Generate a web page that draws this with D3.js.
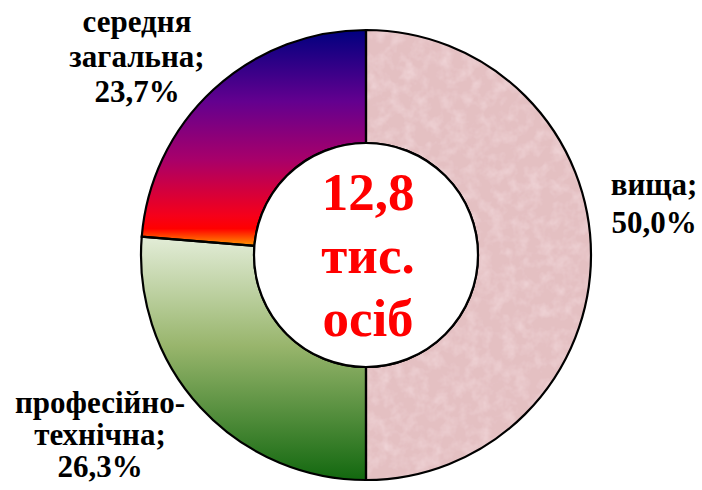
<!DOCTYPE html>
<html><head><meta charset="utf-8"><script src="https://cdn.jsdelivr.net/npm/d3@7"></script>
<style>
  svg text { font-family: "Liberation Serif", "Times New Roman", serif !important; font-weight: bold !important; }
</style>
</head>
<body style="margin:0">
<svg id="s" width="702" height="490"></svg>
<script>
// data
const categories = ['вища', 'професійно-технічна', 'середня загальна']
const shares = [50.0, 26.3, 23.7]
const labelLines = [
  ['вища;', '50,0%'],
  ['професійно-', 'технічна;', '26,3%'],
  ['середня', 'загальна;', '23,7%']
]
const centerLines = ['12,8', 'тис.', 'осіб']

// size
const cx = 366
const cy = 255
const outerR = 225
const innerR = 112

const svg = d3.select('#s')
const defs = svg.append('defs')

// purple -> red -> orange gradient (top to bottom)
const g1 = defs.append('linearGradient')
  .attr('id', 'gradSunset')
  .attr('x1', 0).attr('y1', 0).attr('x2', 0).attr('y2', 1)
;[[0, '#00007f'], [0.33, '#63008f'], [0.6, '#a8006a'], [0.86, '#f5001a'], [0.92, '#ff0000'], [1, '#ff9a00']]
  .forEach(s => g1.append('stop').attr('offset', s[0]).attr('stop-color', s[1]))

// light green -> dark green
const g2 = defs.append('linearGradient')
  .attr('id', 'gradGreen')
  .attr('x1', 0).attr('y1', 0).attr('x2', 0).attr('y2', 1)
;[[0, '#e3edd8'], [0.45, '#98b56c'], [1, '#12680f']]
  .forEach(s => g2.append('stop').attr('offset', s[0]).attr('stop-color', s[1]))

// pink paper texture
const f = defs.append('filter').attr('id', 'paper')
  .attr('x', 0).attr('y', 0).attr('width', 1).attr('height', 1)
f.append('feTurbulence')
  .attr('type', 'fractalNoise').attr('baseFrequency', 0.08)
  .attr('numOctaves', 3).attr('seed', 4).attr('result', 'noise')
f.append('feColorMatrix').attr('in', 'noise').attr('type', 'matrix')
  .attr('values', '0 0 0 0 1  0 0 0 0 0.86  0 0 0 0 0.88  0.7 0 0 0 -0.28')
  .attr('result', 'spots')
f.append('feComposite').attr('in', 'spots').attr('in2', 'SourceGraphic')
  .attr('operator', 'in').attr('result', 'spotsIn')
const fm = f.append('feMerge')
fm.append('feMergeNode').attr('in', 'SourceGraphic')
fm.append('feMergeNode').attr('in', 'spotsIn')

const fills = ['#e4c0c2', 'url(#gradGreen)', 'url(#gradSunset)']

const pie = d3.pie().sort(null).value(d => d)
const arc = d3.arc().innerRadius(innerR).outerRadius(outerR)
const arcs = pie(shares)

const g = svg.append('g').attr('transform', `translate(${cx},${cy})`)

// slice fills
g.selectAll('path.fill')
  .data(arcs)
  .enter()
  .append('path')
  .attr('class', 'fill')
  .attr('d', arc)
  .attr('fill', (d, i) => fills[i])
  .attr('filter', (d, i) => i === 0 ? 'url(#paper)' : null)

// slice outlines
g.selectAll('path.edge')
  .data(arcs)
  .enter()
  .append('path')
  .attr('class', 'edge')
  .attr('d', arc)
  .attr('fill', 'none')
  .attr('stroke', '#000')
  .attr('stroke-width', 2.2)

// hole
g.append('circle')
  .attr('r', innerR)
  .attr('fill', '#fff')
  .attr('stroke', '#000')
  .attr('stroke-width', 2.2)

// all texts as rows: [text, centre x, baseline y, size, colour]
const labelPos = [[654, 195, 38], [100, 413, 32], [137, 32, 35]]
const rows = []
centerLines.forEach((t, i) => rows.push([t, cx + 2, cy - 45 + i * 63, 53, '#ff0000']))
labelLines.forEach((lines, i) => {
  const p = labelPos[i]
  lines.forEach((t, j) => rows.push([t, p[0], p[1] + j * p[2], 31, '#000000']))
})

svg.selectAll('text').data(rows).enter().append('text')
  .attr('x', d => d[1]).attr('y', d => d[2])
  .attr('text-anchor', 'middle')
  .style('font-family', '"Liberation Serif", "Times New Roman", serif', 'important')
  .style('font-weight', 'bold', 'important')
  .style('font-size', d => d[3] + 'px')
  .style('fill', d => d[4])
  .text(d => d[0])
</script></body></html>
